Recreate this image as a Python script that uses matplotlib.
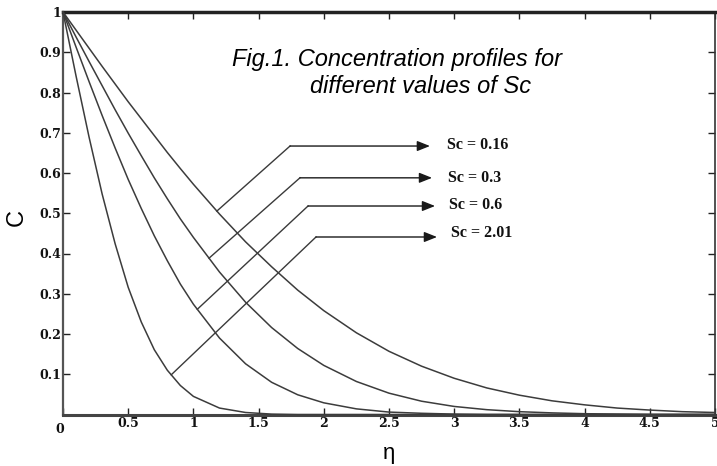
import numpy as np
import matplotlib
matplotlib.use("Agg")
import matplotlib.pyplot as plt
from matplotlib.transforms import ScaledTranslation

# similarity variable
eta = [0.0, 0.1, 0.2, 0.3, 0.4, 0.5, 0.6, 0.7, 0.8, 0.9, 1.0, 1.2, 1.4, 1.6, 1.8,
       2.0, 2.25, 2.5, 2.75, 3.0, 3.25, 3.5, 3.75, 4.0, 4.25, 4.5, 4.75, 5.0]

# concentration profiles C(eta) for each Schmidt number
c_sc016 = [1.0, 0.955, 0.910, 0.865, 0.821, 0.777, 0.735, 0.693, 0.651, 0.611, 0.572,
           0.498, 0.429, 0.367, 0.309, 0.258, 0.203, 0.157, 0.120, 0.090, 0.066,
           0.048, 0.034, 0.024, 0.016, 0.011, 0.007, 0.005]
c_sc03 = [1.0, 0.938, 0.877, 0.817, 0.757, 0.699, 0.643, 0.588, 0.536, 0.486, 0.440,
          0.354, 0.279, 0.216, 0.164, 0.122, 0.082, 0.053, 0.033, 0.020, 0.012,
          0.007, 0.004, 0.002, 0.001, 0.0, 0.0, 0.0]
c_sc06 = [1.0, 0.913, 0.827, 0.743, 0.662, 0.584, 0.512, 0.444, 0.382, 0.324, 0.274,
          0.190, 0.126, 0.080, 0.049, 0.029, 0.014, 0.006, 0.003, 0.001, 0.0,
          0.0, 0.0, 0.0, 0.0, 0.0, 0.0, 0.0]
c_sc201 = [1.0, 0.841, 0.689, 0.548, 0.424, 0.316, 0.230, 0.161, 0.110, 0.072, 0.045,
           0.016, 0.005, 0.001, 0.0, 0.0, 0.0, 0.0, 0.0, 0.0, 0.0,
           0.0, 0.0, 0.0, 0.0, 0.0, 0.0, 0.0]

sc_labels = ["Sc = 0.16", "Sc = 0.3", "Sc = 0.6", "Sc = 2.01"]
profiles = [c_sc016, c_sc03, c_sc06, c_sc201]

# where each leader line touches its curve, its elbow, and the arrow tip
leader_eta = [1.18, 1.12, 1.03, 0.83]
elbow_x = [1.741, 1.817, 1.879, 1.940]
elbow_y = [0.667, 0.588, 0.518, 0.441]
tip_x = [2.814, 2.830, 2.853, 2.868]
label_x = [2.945, 2.952, 2.960, 2.975]
label_y = [0.670, 0.588, 0.520, 0.451]

xticks = [0, 0.5, 1, 1.5, 2, 2.5, 3, 3.5, 4, 4.5, 5]
xticklabels = ["0", "0.5", "1", "1.5", "2", "2.5", "3", "3.5", "4", "4.5", "5"]
yticks = [0.1, 0.2, 0.3, 0.4, 0.5, 0.6, 0.7, 0.8, 0.9, 1.0]
yticklabels = ["0.1", "0.2", "0.3", "0.4", "0.5", "0.6", "0.7", "0.8", "0.9", "1"]

W, H = 717, 466
fig = plt.figure(figsize=(W / 100, H / 100), dpi=100)
ax = fig.add_axes([63 / W, 1 - 414.5 / H, 652 / W, 402.5 / H])

for c in profiles:
    ax.plot(eta, c, color="#3c3c3c", lw=1.1, clip_on=False, zorder=3)

for i, c in enumerate(profiles):
    ax_y = np.interp(leader_eta[i], eta, c)
    ax.plot([leader_eta[i], elbow_x[i]], [ax_y, elbow_y[i]], color="#3a3a3a", lw=1.0)
    ax.annotate("", xy=(tip_x[i], elbow_y[i]), xytext=(elbow_x[i], elbow_y[i]),
                arrowprops=dict(arrowstyle="-|>,head_length=0.7,head_width=0.28",
                                color="#1a1a1a", lw=1.0, shrinkA=0, shrinkB=0,
                                mutation_scale=11))
    ax.text(label_x[i], label_y[i], sc_labels[i], family="Liberation Serif",
            weight="bold", fontsize=11.5, ha="left", va="center", color="#111")

ax.set_xlim(0, 5)
ax.set_ylim(0, 1)
ax.set_xticks(xticks)
ax.set_xticklabels(xticklabels)
ax.set_yticks(yticks)
ax.set_yticklabels(yticklabels)
ax.tick_params(direction="in", length=5, width=1, top=True, right=True,
               color="#222", pad=2)
for lab in ax.get_xticklabels() + ax.get_yticklabels():
    lab.set_family("DejaVu Serif")
    lab.set_weight("bold")
    lab.set_fontsize(9)
    lab.set_color("#111")
ax.tick_params(axis="y", pad=1)
# the origin label sits a little lower and to the left
zero = ax.get_xticklabels()[0]
zero.set_transform(zero.get_transform() +
                   ScaledTranslation(-3 / 100, -6 / 100, fig.dpi_scale_trans))

ax.spines["top"].set_linewidth(2.5)
ax.spines["top"].set_color("#222")
ax.spines["left"].set_linewidth(1.6)
ax.spines["left"].set_color("#555")
ax.spines["bottom"].set_linewidth(2.2)
ax.spines["bottom"].set_color("#444")
ax.spines["right"].set_linewidth(1.2)
ax.spines["right"].set_color("#333")

ax.set_ylabel("C", family="Liberation Sans", fontsize=17)
ax.yaxis.set_label_coords(-46 / 652, 0.49)
ax.yaxis.label.set_va("center")
ax.set_xlabel("\u03b7", family="Liberation Sans", fontsize=16)
ax.xaxis.set_label_coords((389 - 63) / 652, -(453 - 414.5) / 402.5)
ax.xaxis.label.set_va("center")

fig.text(397 / W, 1 - 66 / H, "Fig.1. Concentration profiles for",
         family="Liberation Sans", style="italic", fontsize=17,
         ha="center", va="baseline")
fig.text(421 / W, 1 - 93 / H, "different values of Sc",
         family="Liberation Sans", style="italic", fontsize=17,
         ha="center", va="baseline")

fig.savefig("out.png", dpi=100)
